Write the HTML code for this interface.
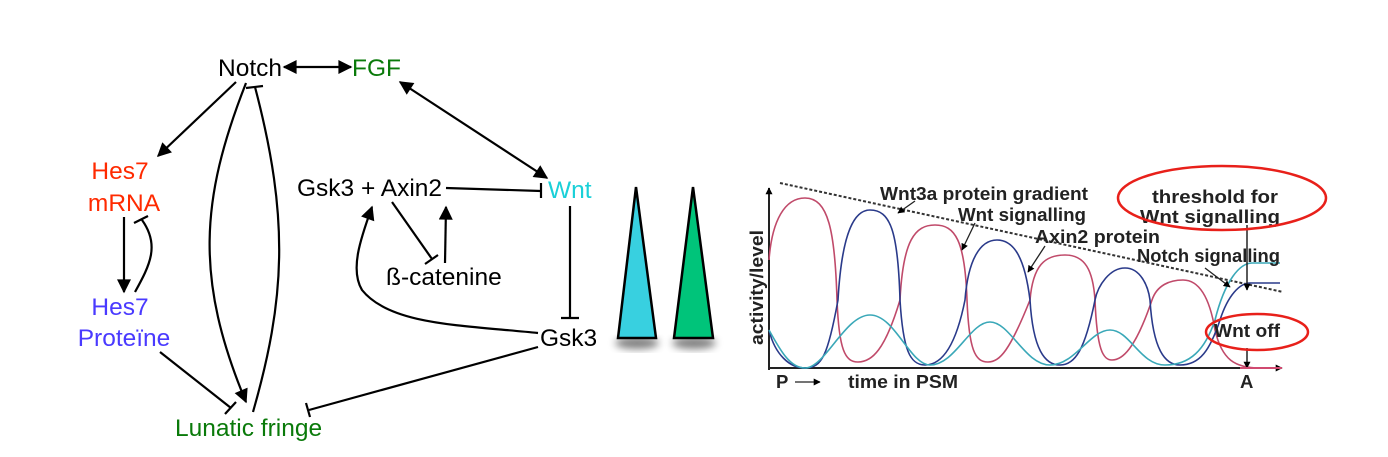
<!DOCTYPE html>
<html><head><meta charset="utf-8"><style>
html,body{margin:0;padding:0;background:#fff;}
svg{display:block;}
text{font-family:"Liberation Sans",sans-serif;}
</style></head><body>
<svg width="1388" height="457" viewBox="0 0 1388 457" xmlns="http://www.w3.org/2000/svg">
<defs>
<marker id="a" viewBox="0 0 10 10" refX="9" refY="5" markerWidth="7" markerHeight="7" markerUnits="userSpaceOnUse" orient="auto-start-reverse"><path d="M0,0 L10,5 L0,10 z" fill="#000"/></marker>
<marker id="A" viewBox="0 0 10 10" refX="9" refY="5" markerWidth="16" markerHeight="14" markerUnits="userSpaceOnUse" orient="auto-start-reverse"><path d="M0,0 L10,5 L0,10 z" fill="#000"/></marker>
<filter id="sh" x="-50%" y="-20%" width="200%" height="150%"><feGaussianBlur stdDeviation="4"/></filter>
</defs>
<g font-size="24.5">
<text x="218" y="76" fill="#000">Notch</text>
<text x="352" y="76" fill="#0a7a0a">FGF</text>
<text x="120" y="179" fill="#ff2a00" text-anchor="middle">Hes7</text>
<text x="124" y="211" fill="#ff2a00" text-anchor="middle">mRNA</text>
<text x="120" y="315" fill="#4a3aff" text-anchor="middle">Hes7</text>
<text x="124" y="346" fill="#4a3aff" text-anchor="middle">Proteïne</text>
<text x="175" y="436" fill="#0a7a0a">Lunatic fringe</text>
<text x="297" y="196" fill="#000">Gsk3 + Axin2</text>
<text x="548" y="198" fill="#1ad0d8">Wnt</text>
<text x="386" y="285" fill="#000">ß-catenine</text>
<text x="540" y="346" fill="#000">Gsk3</text>
</g>
<g stroke="#000" stroke-width="2.2" fill="none">
<line x1="284" y1="67" x2="351" y2="67" marker-start="url(#A)" marker-end="url(#A)"/>
<line x1="400" y1="82" x2="547" y2="178" marker-start="url(#A)" marker-end="url(#A)"/>
<line x1="236" y1="82" x2="158" y2="156" marker-end="url(#A)"/>
<line x1="124" y1="217" x2="124" y2="292" marker-end="url(#A)"/>
<path d="M135,292 C150,265 160,245 142,220"/><line x1="134" y1="223" x2="148" y2="216"/>
<line x1="160" y1="352" x2="231" y2="408"/><line x1="225" y1="414" x2="236" y2="402"/>
<path d="M246,83 C200,200 195,280 246,402" marker-end="url(#A)"/>
<path d="M253,412 C285,300 290,220 255,87"/><line x1="246" y1="88" x2="263" y2="86"/>
<line x1="538" y1="347" x2="309" y2="410"/><line x1="306" y1="403" x2="310" y2="417"/>
<line x1="446" y1="188" x2="541" y2="191"/><line x1="541" y1="183" x2="541" y2="198"/>
<line x1="570" y1="206" x2="570" y2="318"/><line x1="561" y1="318" x2="579" y2="318"/>
<path d="M538,333 C460,325 390,325 362,290 C350,270 360,240 372,207" marker-end="url(#A)"/>
<line x1="392" y1="202" x2="432" y2="259"/><line x1="425" y1="264" x2="438" y2="255"/>
<line x1="445" y1="263" x2="446" y2="207" marker-end="url(#A)"/>
</g>
<ellipse cx="637" cy="343" rx="22" ry="6" fill="#000" opacity="0.5" filter="url(#sh)"/>
<ellipse cx="694" cy="343" rx="22" ry="6" fill="#000" opacity="0.5" filter="url(#sh)"/>
<polygon points="636,187 618,338 656,338" fill="#38d0e0" stroke="#000" stroke-width="2.5"/>
<polygon points="693,187 674,338 713,338" fill="#00c47a" stroke="#000" stroke-width="2.5"/>
<g fill="none">
<line x1="769" y1="370" x2="769" y2="188" stroke="#222" stroke-width="2" marker-end="url(#a)"/>
<line x1="768" y1="368" x2="1282" y2="368" stroke="#222" stroke-width="2" marker-end="url(#a)"/>
<line x1="780" y1="183" x2="1283" y2="292" stroke="#333" stroke-width="2" stroke-dasharray="3,2"/>
<path stroke="#c04a6a" stroke-width="1.6" d="M769,260 C772,220 785,198 805,198 C828,198 835,230 837,300 C839,350 845,362 858,362 C872,362 885,350 900,300 C903,240 915,225 935,225 C955,225 965,240 967,300 C969,350 975,362 988,362 C1000,362 1010,350 1030,300 C1033,265 1045,255 1065,255 C1085,255 1093,270 1095,300 C1097,350 1103,360 1112,360 C1122,360 1135,350 1152,300 C1157,285 1170,280 1183,280 C1200,280 1210,300 1215,330 C1222,360 1235,368 1260,368 L1282,368"/>
<path stroke="#2a3a8a" stroke-width="1.6" d="M769,330 C775,355 790,368 805,368 C822,368 828,355 838,300 C842,230 855,210 870,210 C890,210 898,230 900,300 C903,350 910,365 925,365 C940,365 955,350 965,300 C968,260 980,240 997,240 C1015,240 1025,260 1030,300 C1033,350 1045,365 1060,365 C1075,365 1085,350 1095,300 C1098,285 1110,268 1125,268 C1140,268 1148,285 1150,300 C1153,350 1165,365 1180,365 C1200,365 1210,350 1220,320 C1228,295 1240,283 1250,283 L1280,283"/>
<path stroke="#3aa8b8" stroke-width="1.6" d="M769,330 C780,350 790,368 805,368 C825,368 845,315 870,315 C895,315 910,365 930,365 C955,365 970,322 990,322 C1010,322 1025,365 1050,365 C1075,365 1090,330 1110,330 C1130,330 1140,365 1165,365 C1190,365 1205,350 1215,320 C1225,280 1240,263 1252,263 L1280,263"/>
<line x1="1247" y1="225" x2="1247" y2="290" stroke="#222" stroke-width="1.5" marker-end="url(#a)"/>
<line x1="1247" y1="348" x2="1247" y2="368" stroke="#222" stroke-width="1.5" marker-end="url(#a)"/>
<line x1="1240" y1="368" x2="1282" y2="368" stroke="#d04a70" stroke-width="2"/>
</g>
<g font-family="Liberation Sans,sans-serif" font-size="18.5" fill="#222" font-weight="bold">
<text x="880" y="200" textLength="208" lengthAdjust="spacingAndGlyphs">Wnt3a protein gradient</text>
<text x="958" y="221" textLength="128" lengthAdjust="spacingAndGlyphs">Wnt signalling</text>
<text x="1035" y="243" textLength="125" lengthAdjust="spacingAndGlyphs">Axin2 protein</text>
<text x="1137" y="262" textLength="143" lengthAdjust="spacingAndGlyphs">Notch signalling</text>
<text x="1152" y="203" textLength="126" lengthAdjust="spacingAndGlyphs">threshold for</text>
<text x="1140" y="223" textLength="140" lengthAdjust="spacingAndGlyphs">Wnt signalling</text>
<text x="1214" y="337" textLength="66" lengthAdjust="spacingAndGlyphs">Wnt off</text>
<text x="848" y="388" textLength="110" lengthAdjust="spacingAndGlyphs">time in PSM</text>
<text x="776" y="388">P</text>
<text x="1240" y="388">A</text>
<text transform="translate(763,345) rotate(-90)" textLength="115" lengthAdjust="spacingAndGlyphs">activity/level</text>
</g>
<g stroke="#222" stroke-width="1.3" fill="none">
<line x1="795" y1="382" x2="820" y2="382" marker-end="url(#a)"/>
<line x1="915" y1="201" x2="898" y2="213" marker-end="url(#a)"/>
<line x1="975" y1="223" x2="962" y2="250" marker-end="url(#a)"/>
<line x1="1045" y1="246" x2="1028" y2="272" marker-end="url(#a)"/>
<line x1="1205" y1="268" x2="1230" y2="287" marker-end="url(#a)"/>
</g>
<ellipse cx="1222" cy="198" rx="104" ry="32" fill="none" stroke="#e8201a" stroke-width="2.5"/>
<ellipse cx="1257" cy="332" rx="51" ry="18" fill="none" stroke="#e8201a" stroke-width="2.5"/>
</svg>
</body></html>
